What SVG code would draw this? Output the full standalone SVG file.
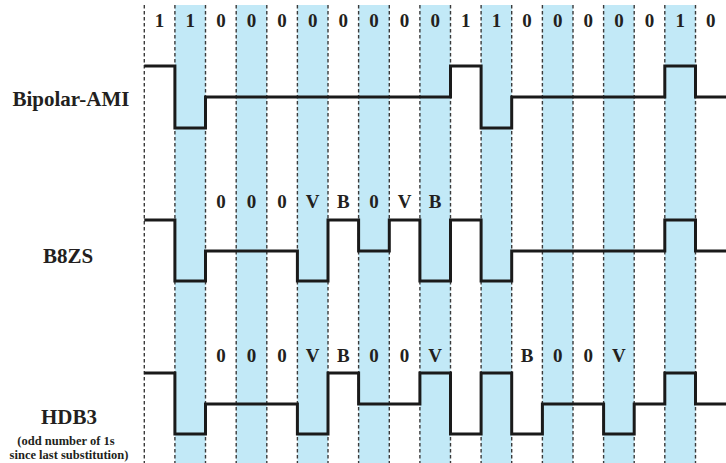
<svg xmlns="http://www.w3.org/2000/svg" width="726" height="463" viewBox="0 0 726 463">
<style>
.band{fill:#c2e9f7}
.grid{stroke:#3a3a3a;stroke-width:1.4;stroke-dasharray:3.5 2.5;fill:none}
.wave{stroke:#1a1a1a;stroke-width:3;fill:none;stroke-linejoin:miter}
text{font-family:"Liberation Serif","Times New Roman",serif;font-weight:bold;fill:#231f20}
.bit{font-size:19px;text-anchor:middle}
.name{font-size:21px;text-anchor:middle}
.note{font-size:12.5px;text-anchor:middle}
</style>
<rect width="726" height="463" fill="#ffffff"/>
<g id="bands">
<rect class="band" x="174.9" y="5" width="30.6" height="458"/>
<rect class="band" x="236.2" y="5" width="30.6" height="458"/>
<rect class="band" x="297.4" y="5" width="30.6" height="458"/>
<rect class="band" x="358.6" y="5" width="30.7" height="458"/>
<rect class="band" x="419.9" y="5" width="30.6" height="458"/>
<rect class="band" x="481.1" y="5" width="30.6" height="458"/>
<rect class="band" x="542.4" y="5" width="30.6" height="458"/>
<rect class="band" x="603.6" y="5" width="30.6" height="458"/>
<rect class="band" x="664.8" y="5" width="30.7" height="458"/>
</g>
<g id="gridlines">
<path class="grid" d="M144.3,5V463M174.9,5V463M205.5,5V463M236.2,5V463M266.8,5V463M297.4,5V463M328,5V463M358.6,5V463M389.3,5V463M419.9,5V463M450.5,5V463M481.1,5V463M511.7,5V463M542.4,5V463M573,5V463M603.6,5V463M634.2,5V463M664.8,5V463M695.5,5V463"/>
</g>
<g id="bits">
<text class="bit" x="159.6" y="27">1</text>
<text class="bit" x="190.2" y="27">1</text>
<text class="bit" x="220.9" y="27">0</text>
<text class="bit" x="251.5" y="27">0</text>
<text class="bit" x="282.1" y="27">0</text>
<text class="bit" x="312.7" y="27">0</text>
<text class="bit" x="343.3" y="27">0</text>
<text class="bit" x="374" y="27">0</text>
<text class="bit" x="404.6" y="27">0</text>
<text class="bit" x="435.2" y="27">0</text>
<text class="bit" x="465.8" y="27">1</text>
<text class="bit" x="496.4" y="27">1</text>
<text class="bit" x="527.1" y="27">0</text>
<text class="bit" x="557.7" y="27">0</text>
<text class="bit" x="588.3" y="27">0</text>
<text class="bit" x="618.9" y="27">0</text>
<text class="bit" x="649.5" y="27">0</text>
<text class="bit" x="680.2" y="27">1</text>
<text class="bit" x="710.8" y="27">0</text>
</g>
<g id="ami">
<text class="name" x="71" y="106">Bipolar-AMI</text>
<path class="wave" d="M144.3,66H174.9V128H205.5V97H450.5V66H481.1V128H511.7V97H664.8V66H695.5V97H726"/>
</g>
<g id="b8zs">
<text class="name" x="68" y="263">B8ZS</text>
<text class="bit" x="220.9" y="208">0</text>
<text class="bit" x="251.5" y="208">0</text>
<text class="bit" x="282.1" y="208">0</text>
<text class="bit" x="312.7" y="208">V</text>
<text class="bit" x="343.3" y="208">B</text>
<text class="bit" x="374" y="208">0</text>
<text class="bit" x="404.6" y="208">V</text>
<text class="bit" x="435.2" y="208">B</text>
<path class="wave" d="M144.3,220H174.9V281H205.5V251H297.4V281H328V220H358.6V251H389.3V220H419.9V281H450.5V220H481.1V281H511.7V251H664.8V220H695.5V251H726"/>
</g>
<g id="hdb3">
<text class="name" x="69" y="424">HDB3</text>
<text class="note" x="66" y="444.5">(odd number of 1s</text>
<text class="note" x="69" y="458.5">since last substitution)</text>
<text class="bit" x="220.9" y="362">0</text>
<text class="bit" x="251.5" y="362">0</text>
<text class="bit" x="282.1" y="362">0</text>
<text class="bit" x="312.7" y="362">V</text>
<text class="bit" x="343.3" y="362">B</text>
<text class="bit" x="374" y="362">0</text>
<text class="bit" x="404.6" y="362">0</text>
<text class="bit" x="435.2" y="362">V</text>
<text class="bit" x="527.1" y="362">B</text>
<text class="bit" x="557.7" y="362">0</text>
<text class="bit" x="588.3" y="362">0</text>
<text class="bit" x="618.9" y="362">V</text>
<path class="wave" d="M144.3,373H174.9V434H205.5V404H297.4V434H328V373H358.6V404H419.9V373H450.5V434H481.1V373H511.7V434H542.4V404H603.6V434H634.2V404H664.8V373H695.5V404H726"/>
</g>
</svg>
